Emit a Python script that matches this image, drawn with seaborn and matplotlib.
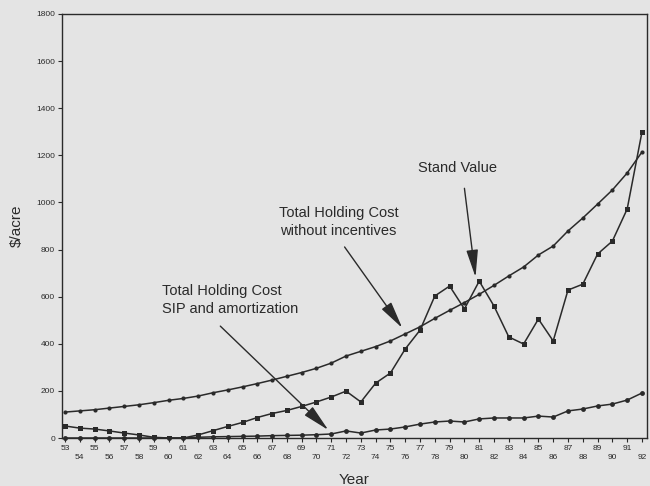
import matplotlib
matplotlib.use("Agg")
import matplotlib.pyplot as plt
import numpy as np
import pandas as pd
import seaborn as sns

years = list(range(53, 93))

holding_no_incentives = [110, 115, 120, 127, 134, 141, 150, 160, 168, 178,
                         192, 204, 217, 231, 246, 262, 278, 296, 318, 348,
                         368, 388, 412, 442, 472, 508, 542, 575, 610, 648,
                         688, 726, 777, 815, 879, 934, 993, 1053, 1125, 1214]

stand_value = [51, 42, 38, 30, 21, 13, 3, 0, 0, 13,
               31, 49, 66, 87, 104, 117, 134, 153, 174, 199,
               153, 233, 276, 378, 458, 603, 645, 548, 666, 560,
               429, 399, 505, 412, 628, 653, 781, 836, 972, 1299]

holding_sip = [0, 0, 0, 0, 0, 0, 0, 0, 0, 3,
               5, 6, 7, 8, 10, 11, 12, 14, 17, 30,
               21, 34, 38, 47, 59, 68, 72, 68, 81, 85,
               85, 85, 93, 89, 115, 123, 136, 144, 161, 191]

y_ticks = [0, 200, 400, 600, 800, 1000, 1200, 1400, 1600, 1800]

sns.set_theme(style="ticks")
plt.rcParams["font.family"] = ["Liberation Sans", "DejaVu Sans"]

bg = "#e4e4e4"
ink = "#2a2a2a"

fig = plt.figure(figsize=(6.5, 4.86), dpi=100, facecolor=bg)
ax = fig.add_axes([62 / 650, 1 - 438 / 486, (647 - 62) / 650, (438 - 14) / 486])
ax.set_facecolor(bg)

df = pd.DataFrame({
    "Year": years,
    "no_inc": holding_no_incentives,
    "stand": stand_value,
    "sip": holding_sip,
})

sns.lineplot(data=df, x="Year", y="no_inc", ax=ax, color=ink, lw=1.1,
             marker="o", markersize=3, markeredgewidth=0)
sns.lineplot(data=df, x="Year", y="stand", ax=ax, color=ink, lw=1.1,
             marker="s", markersize=3.6, markeredgewidth=0)
sns.lineplot(data=df, x="Year", y="sip", ax=ax, color=ink, lw=1.1,
             marker="o", markersize=3.5, markeredgewidth=0, clip_on=False)

ax.set_xlim(52.8, 92.34)
ax.set_ylim(0, 1800)
ax.set_xticks(years)
ax.set_xticklabels([str(y) if y % 2 == 1 else "\n" + str(y) for y in years],
                   fontsize=6, color=ink, linespacing=1.5)
ax.set_yticks(y_ticks)
ax.set_yticklabels([str(v) for v in y_ticks], fontsize=6, color=ink)
ax.tick_params(axis="both", direction="out", length=3, width=0.8, color=ink, pad=2)

for s in ax.spines.values():
    s.set_visible(True)
    s.set_color(ink)
    s.set_linewidth(1.0)

ax.set_xlabel("Year", fontsize=11, color=ink, labelpad=8)
ax.set_ylabel("$/acre", fontsize=11, color=ink, labelpad=9)

arrow = dict(arrowstyle="-|>,head_length=1.4,head_width=0.3", color=ink,
             lw=1.0, shrinkA=0, shrinkB=0)
note = dict(fontsize=10.5, color=ink, va="center", linespacing=1.35)

ax.text(79.55, 1146, "Stand Value", ha="center", **note)
ax.annotate("", xy=(80.75, 683), xytext=(80.0, 1060), arrowprops=arrow)

ax.text(71.5, 917, "Total Holding Cost\nwithout incentives", ha="center", **note)
ax.annotate("", xy=(75.8, 467), xytext=(71.9, 811), arrowprops=arrow)

ax.text(59.55, 586, "Total Holding Cost\nSIP and amortization", ha="left", **note)
ax.annotate("", xy=(70.8, 34), xytext=(63.5, 475), arrowprops=arrow)

fig.savefig("out.png", dpi=100, facecolor=bg)
